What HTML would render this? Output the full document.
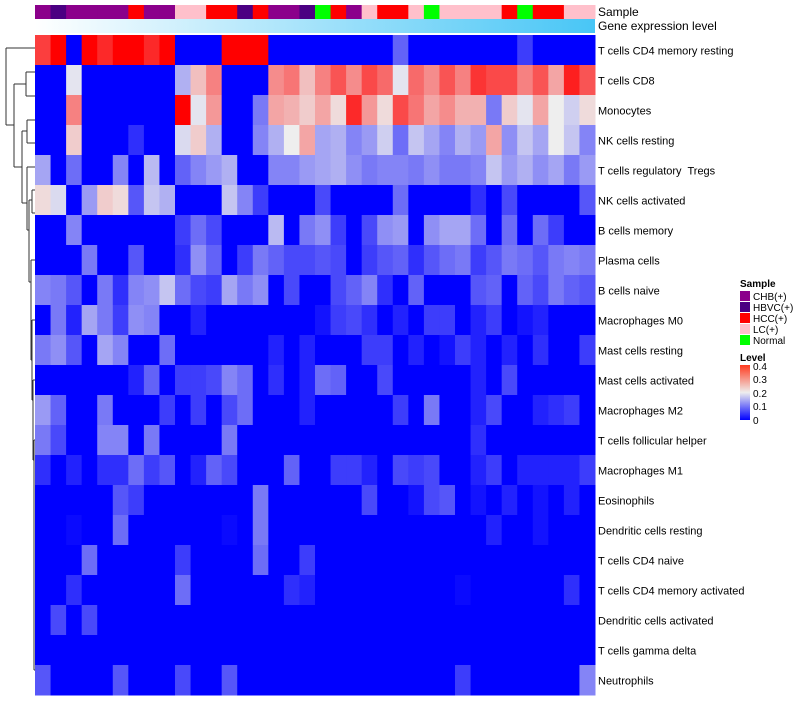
<!DOCTYPE html>
<html><head><meta charset="utf-8">
<style>
body{margin:0;background:#fff;font-family:"Liberation Sans",sans-serif;}
svg text{font-family:"Liberation Sans",sans-serif;}
</style></head>
<body>
<svg id="chart" width="800" height="700" xmlns="http://www.w3.org/2000/svg">
<defs>
<linearGradient id="geneGrad" x1="0" x2="1" y1="0" y2="0"><stop offset="0" stop-color="#ffffff"/><stop offset="1" stop-color="#48c6f6"/></linearGradient>
<linearGradient id="levelGrad" x1="0" x2="0" y1="1" y2="0"><stop offset="0" stop-color="#0000ff"/><stop offset="0.5" stop-color="#eeeeee"/><stop offset="1" stop-color="#ff3b1f"/></linearGradient>
</defs>
<g id="sample-bar"></g>
<rect x="35" y="19" width="560" height="14" fill="url(#geneGrad)"/>
<text x="598" y="16" font-size="12">Sample</text>
<text x="598" y="30" font-size="12">Gene expression level</text>
<g id="cells"></g>
<g id="rowlabels"></g>
<g id="dendro" stroke="#333" stroke-width="1" fill="none"></g>
<g font-size="10">
<text x="740" y="287" font-weight="bold" font-size="10">Sample</text>
<rect x="740" y="291" width="10" height="10" fill="#8b008b"/><text x="753" y="300">CHB(+)</text>
<rect x="740" y="302" width="10" height="10" fill="#4b0082"/><text x="753" y="311">HBVC(+)</text>
<rect x="740" y="313" width="10" height="10" fill="#ff0000"/><text x="753" y="322">HCC(+)</text>
<rect x="740" y="324" width="10" height="10" fill="#ffc0cb"/><text x="753" y="333">LC(+)</text>
<rect x="740" y="335" width="10" height="10" fill="#00ff00"/><text x="753" y="344">Normal</text>
</g>
<g font-size="10">
<text x="740" y="361" font-weight="bold" font-size="10">Level</text>
<rect x="740" y="365" width="10" height="55" fill="url(#levelGrad)"/>
<text x="753" y="370">0.4</text>
<text x="753" y="383">0.3</text>
<text x="753" y="397">0.2</text>
<text x="753" y="410">0.1</text>
<text x="753" y="424">0</text>
</g>
</svg>
<script>
const rowNames = ["T cells CD4 memory resting","T cells CD8","Monocytes","NK cells resting","T cells regulatory  Tregs","NK cells activated","B cells memory","Plasma cells","B cells naive","Macrophages M0","Mast cells resting","Mast cells activated","Macrophages M2","T cells follicular helper","Macrophages M1","Eosinophils","Dendritic cells resting","T cells CD4 naive","T cells CD4 memory activated","Dendritic cells activated","T cells gamma delta","Neutrophils"];
const sampleGroups = ["CHB","HBVC","CHB","CHB","CHB","CHB","HCC","CHB","CHB","LC","LC","HCC","HCC","HBVC","HCC","CHB","CHB","HBVC","Normal","HCC","CHB","LC","HCC","HCC","LC","Normal","LC","LC","LC","LC","HCC","Normal","HCC","HCC","LC","LC"];
const sampleColors = {CHB:"#8b008b",HBVC:"#4b0082",HCC:"#ff0000",LC:"#ffc0cb",Normal:"#00ff00"};
const r1 = [0.34,0.4,0,0.4,0.36,0.4,0.4,0.36,0.4,0,0,0,0.4,0.4,0.4,0,0,0,0,0,0,0,0,0.07,0,0,0,0,0,0,0,0.04,0,0,0,0];
const r2 = [0,0,0.19,0,0,0,0,0,0,0.14,0.23,0.28,0,0,0,0.27,0.29,0.23,0.28,0.32,0.27,0.33,0.30,0.19,0.30,0.27,0.32,0.28,0.35,0.33,0.33,0.28,0.32,0.25,0.37,0.32];
const r3 = [0,0,0.28,0,0,0,0,0,0,0.4,0.19,0.26,0,0,0.09,0.25,0.24,0.22,0.25,0.21,0.36,0.26,0.21,0.33,0.29,0.25,0.27,0.24,0.24,0.09,0.22,0.19,0.25,0.2,0.17,0.21];
const r4 = [0,0,0.22,0,0,0,0.03,0,0,0.18,0.22,0.14,0,0,0.1,0.14,0.2,0.25,0.13,0.14,0.1,0.12,0.17,0.08,0.16,0.13,0.1,0.14,0.12,0.25,0.11,0.16,0.13,0.2,0.16,0.1];
const r5 = [0.13,0,0.08,0,0,0.1,0,0.15,0,0.07,0.1,0.12,0.14,0,0,0.1,0.1,0.12,0.13,0.14,0.11,0.09,0.1,0.1,0.09,0.11,0.09,0.09,0.1,0.16,0.12,0.14,0.11,0.13,0.09,0.12];
const r6 = [0.21,0.18,0,0.12,0.22,0.21,0.06,0.16,0.14,0,0,0,0.16,0.1,0.04,0,0,0,0.05,0,0,0,0,0.08,0,0,0,0,0.03,0,0.05,0,0,0,0,0.06];
const r7 = [0,0,0.1,0,0,0,0,0,0,0.04,0.08,0.05,0,0,0,0.15,0,0.09,0.11,0.04,0,0.05,0.11,0.12,0,0.11,0.13,0.13,0.08,0,0.08,0,0.08,0.04,0,0];
const r8 = [0,0,0,0.09,0,0,0.06,0,0,0.03,0.11,0.07,0,0.04,0.09,0.07,0.05,0.05,0.06,0.05,0,0.04,0.06,0.07,0.03,0.06,0.08,0.09,0.04,0.06,0.09,0.08,0.06,0.09,0.1,0.09];
const r9 = [0.1,0.09,0.06,0,0.09,0.03,0.1,0.11,0.16,0.08,0.05,0.04,0.13,0.09,0.11,0,0.05,0,0,0.05,0.07,0.1,0.03,0,0.07,0,0,0,0.06,0.07,0,0.07,0.05,0.09,0.07,0.06];
const r10 = [0,0.09,0.02,0.13,0.09,0.04,0.11,0.1,0,0,0.02,0,0,0,0,0,0,0,0.01,0.04,0.05,0.03,0,0.02,0,0.04,0.04,0,0.02,0.04,0,0.01,0.02,0,0,0];
const r11 = [0.09,0.11,0.06,0,0.13,0.1,0,0,0.08,0,0,0,0,0,0,0.02,0,0.02,0,0,0,0.04,0.04,0,0.02,0,0.01,0.04,0.02,0,0.02,0,0.03,0,0,0.04];
const r12 = [0,0,0,0,0,0,0.02,0.07,0,0.04,0.04,0.05,0.1,0.08,0,0.03,0,0.02,0.08,0.07,0,0,0.05,0,0,0,0,0,0.02,0,0.05,0,0,0,0,0];
const r13 = [0.12,0.07,0,0,0.09,0,0,0,0.04,0,0.04,0,0.05,0.08,0,0,0,0.02,0,0,0,0,0,0.04,0,0.09,0,0,0.02,0.05,0,0,0.02,0.03,0.04,0];
const r14 = [0.09,0.05,0,0,0.1,0.1,0,0.09,0,0,0,0,0.09,0,0,0,0,0,0,0,0,0,0,0,0,0,0,0,0.03,0,0,0,0,0,0,0];
const r15 = [0.03,0,0.02,0,0.03,0.03,0.08,0.04,0.06,0,0.02,0.07,0.05,0,0,0,0.07,0,0,0.04,0.04,0.02,0,0.05,0.04,0.05,0,0,0.02,0.04,0,0.02,0.02,0.02,0.02,0.04];
const r16 = [0,0,0,0,0,0.06,0.04,0,0,0,0,0,0,0,0.09,0,0,0,0,0,0,0.05,0,0,0.01,0.05,0.06,0,0.01,0,0.02,0,0.01,0,0.02,0];
const r17 = [0,0,0.005,0,0,0.08,0,0,0,0,0,0,0.005,0,0.09,0,0,0,0,0,0,0,0,0,0,0,0,0,0,0.02,0,0,0.01,0,0,0];
const r18 = [0,0,0,0.08,0,0,0,0,0,0.04,0,0,0,0,0.08,0,0,0.04,0,0,0,0,0,0,0,0,0,0,0,0,0,0,0,0,0,0];
const r19 = [0,0,0.03,0,0,0,0,0,0,0.08,0,0,0,0,0,0,0.03,0.02,0,0,0,0,0,0,0,0,0,0.005,0,0,0,0,0,0,0.03,0];
const r20 = [0,0.05,0,0.05,0,0,0,0,0,0,0,0,0,0,0,0,0,0,0,0,0,0,0,0,0,0,0,0,0,0,0,0,0,0,0,0];
const r21 = [0,0,0,0,0,0,0,0,0,0,0,0,0,0,0,0,0,0,0,0,0,0,0,0,0,0,0,0,0,0,0,0,0,0,0,0];
const r22 = [0.06,0,0,0,0,0.06,0,0,0,0.05,0,0,0.06,0,0,0,0,0,0,0,0,0,0,0,0,0,0,0.04,0,0,0,0,0,0,0,0.1];
const values = [r1,r2,r3,r4,r5,r6,r7,r8,r9,r10,r11,r12,r13,r14,r15,r16,r17,r18,r19,r20,r21,r22];

const NS = "http://www.w3.org/2000/svg";
const X0 = 35, X1 = 595, Y0 = 35, Y1 = 695;
const nCols = sampleGroups.length, nRows = rowNames.length;
const cw = (X1 - X0) / nCols, rh = (Y1 - Y0) / nRows;
function xPos(i){ return X0 + i * cw; }
function yPos(j){ return Y0 + j * rh; }
function lerp(a,b,t){ return Math.round(a + (b - a) * t); }
function colorOf(v){
  v = Math.max(0, Math.min(0.4, v));
  let r,g,b;
  if (v <= 0.2){ const t = Math.pow(v/0.2, 0.85); r = lerp(0,238,t); g = lerp(0,238,t); b = lerp(255,238,t); }
  else { const t = Math.pow((v-0.2)/0.2, 0.85); r = lerp(238,255,t); g = lerp(238,0,t); b = lerp(238,0,t); }
  return `rgb(${r},${g},${b})`;
}
const sb = document.getElementById("sample-bar");
sampleGroups.forEach((s,i)=>{
  const r = document.createElementNS(NS,"rect");
  r.setAttribute("x", xPos(i)); r.setAttribute("y", 5);
  r.setAttribute("width", cw + 0.5); r.setAttribute("height", 14);
  r.setAttribute("fill", sampleColors[s]);
  
  
  sb.appendChild(r);
});
const cells = document.getElementById("cells");
values.forEach((row,j)=>{
  row.forEach((v,i)=>{
    const r = document.createElementNS(NS,"rect");
    r.setAttribute("x", xPos(i)); r.setAttribute("y", yPos(j));
    r.setAttribute("width", cw + 0.5); r.setAttribute("height", rh + 0.5);
    r.setAttribute("fill", colorOf(v));
    
    
    cells.appendChild(r);
  });
});
const rl = document.getElementById("rowlabels");
rowNames.forEach((n,j)=>{
  const t = document.createElementNS(NS,"text");
  t.setAttribute("x", 598); t.setAttribute("y", yPos(j) + rh/2 + 4.5);
  t.setAttribute("font-size", "11");
  t.style.whiteSpace = "pre";
  t.textContent = n;
  
  
  rl.appendChild(t);
});
const segs = [
 [6,48,6,125],[6,48,35,48],[6,125,14,125],
 [14,84,14,167],[14,84,26,84],[14,167,22,167],
 [26,72,26,96],[26,72,35,72],[26,96,35,96],
 [22,131,22,203],[22,131,27,131],[22,203,27,203],
 [27,120,27,143],[27,120,35,120],[27,143,35,143],
 [27,167,27,230],[27,167,35,167],[27,230,29,230],
 [29,200,29,282],[29,200,32,200],[29,282,31,282],
 [32,190,32,213],[32,190,35,190],[32,213,35,213],
 [31,260,31,360],[31,260,35,260],[31,360,32,360],
 [32,320,32,400],[32,320,35,320],[32,400,33,400],
 [33,380,33,460],[33,380,35,380],[33,460,34,460],
 [34,440,34,670],[34,440,35,440],[34,670,35,670]
];
const dg = document.getElementById("dendro");
segs.forEach(s=>{
  const l = document.createElementNS(NS,"line");
  l.setAttribute("x1",s[0]); l.setAttribute("y1",s[1]); l.setAttribute("x2",s[2]); l.setAttribute("y2",s[3]);
  
  
  dg.appendChild(l);
});
</script>
</body></html>
